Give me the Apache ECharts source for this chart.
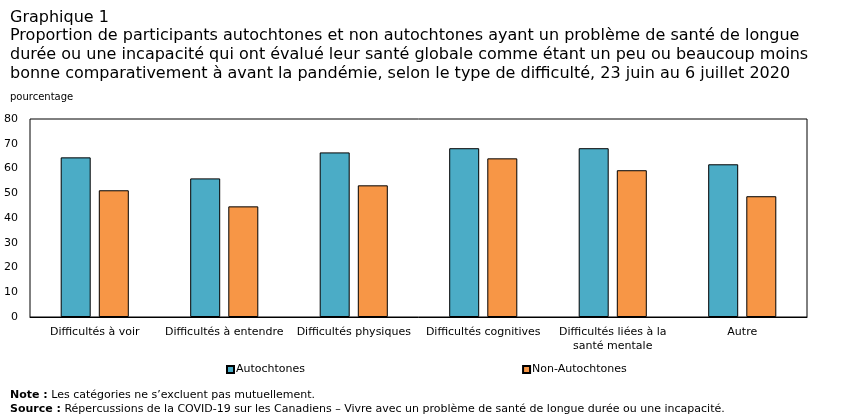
<!DOCTYPE html>
<html>
<head>
<meta charset="utf-8">
<script src="https://cdn.jsdelivr.net/npm/echarts@6/dist/echarts.min.js"></script>
<style>
  html, body { margin: 0; padding: 0; background: #fff; }
  #chart { width: 851px; height: 417px; }
</style>
</head>
<body>
<div id="chart"></div>
<script>
const categories = [
  "Difficultés à voir",
  "Difficultés à entendre",
  "Difficultés physiques",
  "Difficultés cognitives",
  "Difficultés liées à la\nsanté mentale",
  "Autre"
];
const autochtones = [64.5, 56.0, 66.5, 68.2, 68.2, 61.7];
const nonAutochtones = [51.2, 44.7, 53.2, 64.1, 59.3, 48.8];
const yTicks = [0, 10, 20, 30, 40, 50, 60, 70, 80];

const font = "DejaVu Sans";
const chart = echarts.init(document.getElementById("chart"));

const option = {
  animation: false,
  textStyle: { fontFamily: font, color: "#000" },
  title: [
    {
      text: "Graphique 1\nProportion de participants autochtones et non autochtones ayant un problème de santé de longue\ndurée ou une incapacité qui ont évalué leur santé globale comme étant un peu ou beaucoup moins\nbonne comparativement à avant la pandémie, selon le type de difficulté, 23 juin au 6 juillet 2020",
      left: 5,
      top: 3,
      textStyle: { fontFamily: font, fontSize: 16, fontWeight: "normal", lineHeight: 18.7, color: "#000" }
    },
    {
      text: "pourcentage",
      left: 5,
      top: 87,
      textStyle: { fontFamily: font, fontSize: 10, fontWeight: "normal", color: "#000" }
    },
    {
      text: "{b|Note :} Les catégories ne s’excluent pas mutuellement.\n{b|Source :} Répercussions de la COVID-19 sur les Canadiens – Vivre avec un problème de santé de longue durée ou une incapacité.",
      left: 5,
      top: 383,
      textStyle: {
        fontFamily: font, fontSize: 11, fontWeight: "normal", lineHeight: 14, color: "#000",
        rich: { b: { fontWeight: "bold", fontSize: 11, fontFamily: font } }
      }
    }
  ],
  legend: {
    top: 364,
    left: 226,
    padding: 0,
    itemWidth: 7,
    itemHeight: 7,
    itemGap: 217,
    icon: "rect",
    textStyle: { fontFamily: font, fontSize: 11, color: "#000", padding: [0, 0, 0, -3] },
    data: ["Autochtones", "Non-Autochtones"]
  },
  grid: { left: 30, right: 44, top: 119, bottom: 100 },
  xAxis: {
    type: "category",
    data: categories,
    axisLine: { lineStyle: { color: "#000" } },
    axisTick: { show: false },
    axisLabel: { fontFamily: font, fontSize: 11, color: "#000", interval: 0, margin: 8, lineHeight: 14 }
  },
  yAxis: {
    type: "value",
    min: yTicks[0],
    max: yTicks[yTicks.length - 1],
    interval: 10,
    axisLine: { show: false },
    axisTick: { show: false },
    splitLine: { show: false },
    axisLabel: { fontFamily: font, fontSize: 11, color: "#000", margin: 12 }
  },
  graphic: [
    {
      type: "rect",
      shape: { x: 30, y: 119, width: 777, height: 198 },
      style: { fill: "none", stroke: "#000", lineWidth: 1 },
      silent: true
    }
  ],
  series: [
    {
      name: "Autochtones",
      type: "bar",
      data: autochtones,
      barWidth: 30,
      barGap: "27%",
      itemStyle: { color: "#4bacc6", borderColor: "#000", borderWidth: 1 }
    },
    {
      name: "Non-Autochtones",
      type: "bar",
      data: nonAutochtones,
      barWidth: 30,
      barGap: "27%",
      itemStyle: { color: "#f79646", borderColor: "#000", borderWidth: 1 }
    }
  ]
};

chart.setOption(option);
</script>
</body>
</html>
